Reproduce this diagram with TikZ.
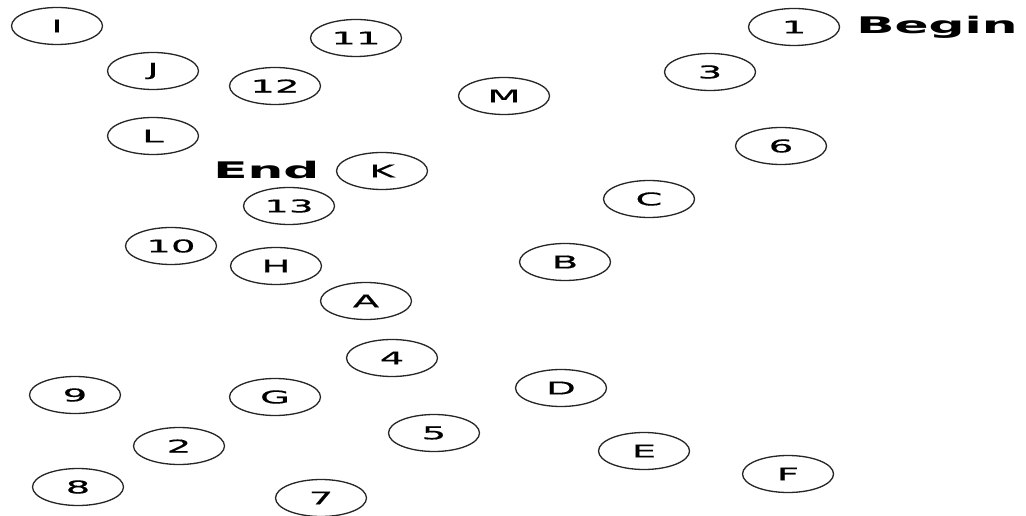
\documentclass[tikz,border=0pt]{standalone}
\usepackage{fontspec}
\usepackage{tikz}
\usetikzlibrary{shapes.geometric}
\newfontfamily\wideface[FakeStretch=2.2, FakeBold=0.6]{DejaVu Sans}
\newfontfamily\widebold[FakeStretch=2.2]{DejaVu Sans Bold}

\begin{document}
\begin{tikzpicture}[x=0.02cm, y=-0.02cm,
    state/.style={draw, ellipse, line width=0.75pt, draw=black!85, minimum width=1.82cm, minimum height=0.74cm, inner sep=0pt, font=\wideface\fontsize{10}{10}\selectfont},
    tag/.style={anchor=west, inner sep=0pt, font=\widebold\fontsize{13}{13}\selectfont}]
      \useasboundingbox (0,0) rectangle (1026,516);
      \node[state] (I) at (57,26) {I};
      \node[state] (n11) at (356,38) {11};
      \node[state] (n1) at (794,27) {1};
      \node[tag] (begin) at (856,27) {Begin};
      \node[state] (J) at (153,71) {J};
      \node[state] (n12) at (275,86) {12};
      \node[state] (n3) at (710,72) {3};
      \node[state] (M) at (504,96) {M};
      \node[state] (L) at (153,136) {L};
      \node[state] (n6) at (781,146) {6};
      \node[tag] (end) at (213,170) {End};
      \node[state] (K) at (382,171) {K};
      \node[state] (n13) at (289,206) {13};
      \node[state] (C) at (649,199) {C};
      \node[state] (n10) at (171,246) {10};
      \node[state] (H) at (276,266) {H};
      \node[state] (B) at (565,262) {B};
      \node[state] (A) at (366,301) {A};
      \node[state] (n4) at (392,358) {4};
      \node[state] (n9) at (75,395) {9};
      \node[state] (G) at (275,397) {G};
      \node[state] (D) at (561,388) {D};
      \node[state] (n5) at (434,433) {5};
      \node[state] (n2) at (179,446) {2};
      \node[state] (E) at (644,451) {E};
      \node[state] (n8) at (78,487) {8};
      \node[state] (F) at (788,474) {F};
      \node[state] (n7) at (321,498) {7};
    \end{tikzpicture}
\end{document}
